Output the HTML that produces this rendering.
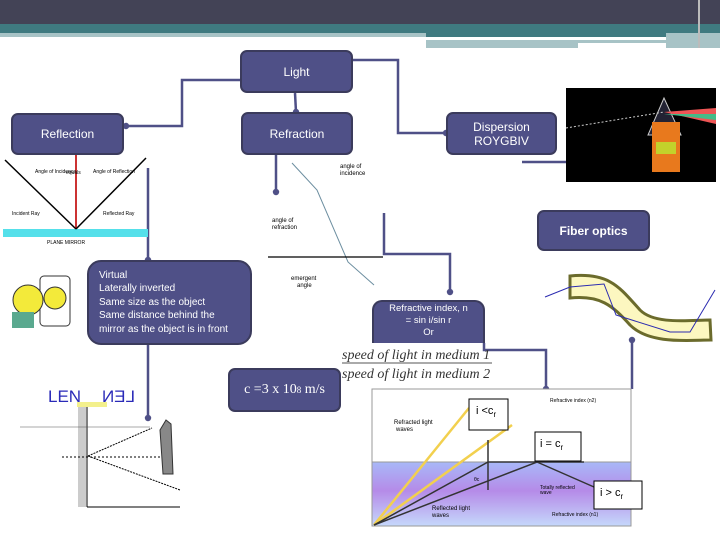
<!DOCTYPE html>
<html><head><meta charset="utf-8"><style>
html,body{margin:0;padding:0;background:#fff}
#c{position:relative;width:720px;height:540px;overflow:hidden;background:#fff;font-family:"Liberation Sans",sans-serif}
.b{position:absolute;background:#4f5087;border:2px solid #3b3b5c;border-radius:7px;color:#fff;box-sizing:border-box;display:flex;align-items:center;justify-content:center;text-align:center;font-size:12px;line-height:14px}
</style></head><body><div id="c">
<div style="position:absolute;left:0;top:0;width:720px;height:24px;background:#434356"></div>
<div style="position:absolute;left:0;top:24px;width:720px;height:9px;background:#3f7a80"></div>
<div style="position:absolute;left:0;top:33px;width:426px;height:4px;background:#a7c3c6"></div>
<div style="position:absolute;left:426px;top:33px;width:270px;height:4px;background:#3f7a80"></div>
<div style="position:absolute;left:426px;top:40px;width:240px;height:3px;background:#a7c3c6"></div>
<div style="position:absolute;left:426px;top:43px;width:152px;height:5px;background:#a7c3c6"></div>
<div style="position:absolute;left:666px;top:33px;width:54px;height:15px;background:#a7c3c6"></div>
<div style="position:absolute;left:698px;top:0;width:2px;height:48px;background:#bbb"></div>

<svg width="720" height="540" style="position:absolute;left:0;top:0">
<defs><marker id="a" markerUnits="userSpaceOnUse" markerWidth="8" markerHeight="8" refX="4" refY="4" orient="auto"><circle cx="4" cy="4" r="3.2" fill="#4f5087"/></marker></defs>
<g stroke="#4f5087" stroke-width="2.5" fill="none" marker-end="url(#a)">
<polyline points="240,80 182,80 182,126 126,126"/>
<polyline points="352,60 398,60 398,133 446,133"/>
<polyline points="295,93 296,112"/>
<polyline points="276,155 276,192"/>
<polyline points="148,168 148,260"/>
<polyline points="148,345 148,418"/>
<polyline points="384,213 384,254 450,254 450,292"/>
<polyline points="484,343 484,350 546,350 546,389"/>
<polyline points="632,389 632,340"/>
<polyline points="522,162 623,162"/>
</g>
<rect x="3" y="229" width="145" height="8" fill="#55e0ea"/>
<line x1="76" y1="155" x2="76" y2="229" stroke="#c33" stroke-width="2"/>
<line x1="5" y1="160" x2="76" y2="229" stroke="#000" stroke-width="1.5"/>
<line x1="76" y1="229" x2="146" y2="158" stroke="#000" stroke-width="1.5"/>
<text x="47" y="244" font-size="5">PLANE MIRROR</text>
<text x="35" y="173" font-size="5">Angle of Incidence</text><text x="66" y="174" font-size="5">equals</text><text x="93" y="173" font-size="5">Angle of Reflection</text>
<text x="12" y="215" font-size="5">Incident Ray</text><text x="103" y="215" font-size="5">Reflected Ray</text>
<polyline points="292,163 317,190 348,262 374,285" stroke="#6c8ea0" fill="none"/>
<line x1="268" y1="257" x2="383" y2="257" stroke="#000" stroke-width="1.2"/>
<text x="340" y="168" font-size="6">angle of</text><text x="340" y="175" font-size="6">incidence</text>
<text x="272" y="222" font-size="6">angle of</text><text x="272" y="229" font-size="6">refraction</text>
<text x="291" y="280" font-size="6">emergent</text><text x="297" y="287" font-size="6">angle</text>
<rect x="40" y="276" width="30" height="50" rx="4" fill="#fff" stroke="#333"/>
<circle cx="28" cy="300" r="15" fill="#f3ea3a" stroke="#333"/>
<circle cx="55" cy="298" r="11" fill="#f3ea3a" stroke="#333"/>
<rect x="12" y="312" width="22" height="16" fill="#5aa98f"/>
<text x="48" y="402" font-size="17" fill="#2a2ab8">LEN</text>
<text x="-135" y="402" font-size="17" fill="#2a2ab8" transform="scale(-1,1)">LEN</text>
<rect x="77" y="402" width="30" height="5" fill="#f3f08c"/>
<rect x="78" y="407" width="8" height="100" fill="#ccc"/>
<line x1="87" y1="407" x2="87" y2="507" stroke="#000"/><line x1="87" y1="507" x2="180" y2="507" stroke="#000"/>
<line x1="20" y1="427" x2="150" y2="427" stroke="#555" stroke-width=".6"/>
<line x1="62" y1="457" x2="172" y2="457" stroke="#000" stroke-dasharray="2,2"/>
<line x1="88" y1="456" x2="152" y2="428" stroke="#000" stroke-dasharray="2,1"/>
<line x1="88" y1="456" x2="180" y2="490" stroke="#000" stroke-dasharray="2,1"/>
<path d="M160,430 l6,-10 l5,4 l2,50 l-10,0 z" fill="#888" stroke="#333"/>
<rect x="566" y="88" width="150" height="94" fill="#000"/>
<polygon points="664,98 648,135 681,135" fill="#223" stroke="#ccc"/>
<path d="M664,112 L716,108 L716,124 Z" fill="#e55"/>
<path d="M664,114 L716,114 L716,120 Z" fill="#4b8"/>
<line x1="566" y1="128" x2="664" y2="112" stroke="#ccc" stroke-dasharray="2,2"/>
<rect x="652" y="122" width="28" height="50" fill="#e8791d"/><rect x="656" y="142" width="20" height="12" fill="#c3d22b"/>
<path d="M570,276 C610,272 620,288 640,310 C655,325 690,320 710,320 L711,340 C690,340 650,345 630,325 C612,305 600,295 570,298 Z" fill="#fcf7c0" stroke="#6b6b2c" stroke-width="3"/>
<polyline points="545,297 570,287 604,284 616,315 670,332 690,332 715,290" fill="none" stroke="#2b2bb0"/>
<defs><linearGradient id="g" x1="0" y1="0" x2="0" y2="1"><stop offset="0" stop-color="#a8b8f8"/><stop offset=".45" stop-color="#b58be8"/><stop offset="1" stop-color="#c5d8fb"/></linearGradient></defs>
<rect x="372" y="389" width="259" height="137" fill="#fff" stroke="#999"/>
<rect x="372" y="462" width="259" height="64" fill="url(#g)" stroke="#999"/>
<g stroke="#f2d04e" stroke-width="2.5"><line x1="374" y1="525" x2="469" y2="408"/><line x1="374" y1="525" x2="512" y2="425"/></g>
<g stroke="#333" stroke-width="1.5" fill="none"><polyline points="374,525 488,462 584,462"/><polyline points="374,525 537,462 594,487"/><line x1="488" y1="440" x2="488" y2="490"/></g>
<text x="550" y="402" font-size="5">Refractive index (n2)</text>
<text x="394" y="424" font-size="6">Refracted light</text><text x="396" y="431" font-size="6">waves</text>
<text x="540" y="489" font-size="5">Totally reflected</text><text x="540" y="494" font-size="5">wave</text>
<text x="432" y="510" font-size="6">Reflected light</text><text x="432" y="517" font-size="6">waves</text>
<text x="552" y="516" font-size="5">Refractive index (n1)</text>
<text x="474" y="481" font-size="5">θc</text>
<g fill="#fff" stroke="#000">
<rect x="469" y="399" width="39" height="31"/><rect x="535" y="432" width="46" height="29"/><rect x="594" y="481" width="48" height="28"/></g>
<text x="476" y="414" font-size="11">i &lt;c<tspan font-size="8" dy="3">r</tspan></text>
<text x="540" y="447" font-size="11">i = c<tspan font-size="8" dy="3">r</tspan></text>
<text x="600" y="496" font-size="11">i &gt; c<tspan font-size="8" dy="3">r</tspan></text>
<text x="342" y="359" font-size="14" font-style="italic" font-family="Liberation Serif" fill="#333">speed of light in medium 1</text>
<line x1="342" y1="363" x2="492" y2="363" stroke="#555"/>
<text x="342" y="378" font-size="14" font-style="italic" font-family="Liberation Serif" fill="#333">speed of light in medium 2</text>
</svg>

<div class="b" style="left:240px;top:50px;width:113px;height:43px">Light</div>
<div class="b" style="left:241px;top:112px;width:112px;height:43px">Refraction</div>
<div class="b" style="left:11px;top:113px;width:113px;height:42px">Reflection</div>
<div class="b" style="left:446px;top:112px;width:111px;height:43px">Dispersion<br>ROYGBIV</div>
<div class="b" style="left:537px;top:210px;width:113px;height:41px;font-weight:bold">Fiber optics</div>
<div class="b" style="left:87px;top:260px;width:165px;height:85px;justify-content:flex-start;text-align:left;padding-left:10px;font-size:10px;line-height:13.4px;border-radius:14px">Virtual<br>Laterally inverted<br>Same size as the object<br>Same distance behind the<br>mirror as the object is in front</div>
<div class="b" style="left:372px;top:300px;width:113px;height:43px;font-size:9.5px;line-height:12px;align-items:flex-start;padding-top:1px;border-radius:10px 10px 0 0;border-bottom:none">Refractive index, n<br>= sin i/sin r<br>Or</div>
<div class="b" style="left:228px;top:368px;width:113px;height:44px;font-family:'Liberation Serif',serif;font-size:14px">c =3 x 10<sup style="font-size:9px">8</sup>&nbsp;m/s</div>
</div></body></html>
